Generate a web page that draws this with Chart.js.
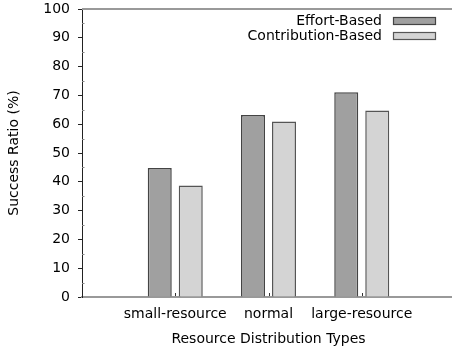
<!DOCTYPE html>
<html>
<head>
<meta charset="utf-8">
<script src="https://cdn.jsdelivr.net/npm/chart.js@4"></script>
<style>
  html, body { margin: 0; padding: 0; background: #fff; overflow: hidden; }
  #wrap { width: 455px; height: 352px; }
</style>
</head>
<body>
<div id="wrap"><canvas id="c" width="455" height="352"></canvas></div>
<script>
// Category slots: empty slots on each side leave room around the three groups
const categories = ['', 'small-resource', 'normal', 'large-resource', ''];
const effortBased = [null, 44.8, 63.2, 71.1, null];
const contributionBased = [null, 38.7, 60.9, 64.8, null];
const yTicks = [0, 10, 20, 30, 40, 50, 60, 70, 80, 90, 100];

const FONT = 'DejaVu Sans';
Chart.defaults.font.family = FONT;
Chart.defaults.color = '#000';

// Frame decorations, minor ticks and the in-plot legend
const frameAndLegend = {
  id: 'frameAndLegend',
  afterDatasetsDraw(chart) {
    const { ctx, chartArea: a, scales } = chart;
    const y = scales.y, x = scales.x;
    ctx.save();
    // top border
    ctx.strokeStyle = '#999';
    ctx.lineWidth = 2;
    ctx.beginPath();
    ctx.moveTo(a.left, a.top);
    ctx.lineTo(a.right, a.top);
    ctx.stroke();
    // minor y ticks, inside the plot
    ctx.strokeStyle = '#888';
    ctx.lineWidth = 1;
    for (let i = 0; i < yTicks.length - 1; i++) {
      const py = Math.round(y.getPixelForValue((yTicks[i] + yTicks[i + 1]) / 2)) + 0.5;
      ctx.beginPath();
      ctx.moveTo(a.left, py);
      ctx.lineTo(a.left + 2.5, py);
      ctx.stroke();
    }
    // small x ticks at group centres, pointing up
    ctx.strokeStyle = '#333';
    categories.forEach((c, i) => {
      if (!c) return;
      const px = Math.round(x.getPixelForValue(i)) + 0.5;
      ctx.beginPath();
      ctx.moveTo(px, a.bottom - 1);
      ctx.lineTo(px, a.bottom - 4);
      ctx.stroke();
    });
    // legend: label on the left, swatch on the right
    ctx.font = '14px ' + FONT;
    ctx.textAlign = 'right';
    ctx.textBaseline = 'middle';
    const rows = [21, 36];
    chart.data.datasets.forEach((ds, i) => {
      const cy = rows[i];
      ctx.fillStyle = '#000';
      ctx.fillText(ds.label, 382, cy);
      ctx.fillStyle = ds.backgroundColor;
      ctx.fillRect(393, cy - 3.5, 42, 7);
      ctx.strokeStyle = ds.borderColor;
      ctx.lineWidth = 1.2;
      ctx.strokeRect(393.5, cy - 3.5, 42, 7);
    });
    ctx.restore();
  }
};

new Chart(document.getElementById('c'), {
  type: 'bar',
  data: {
    labels: categories,
    datasets: [
      {
        label: 'Effort-Based',
        data: effortBased,
        backgroundColor: '#a0a0a0',
        borderColor: '#444',
        borderWidth: 1.5,
        borderSkipped: 'bottom'
      },
      {
        label: 'Contribution-Based',
        data: contributionBased,
        backgroundColor: '#d4d4d4',
        borderColor: '#555',
        borderWidth: 1.5,
        borderSkipped: 'bottom'
      }
    ]
  },
  options: {
    responsive: false,
    animation: false,
    layout: { padding: { top: 9, right: -9, left: 0, bottom: 0 } },
    categoryPercentage: 0.665,
    barPercentage: 0.774,
    plugins: {
      legend: { display: false },
      tooltip: { enabled: false }
    },
    scales: {
      x: {
        offset: false,
        grid: { display: false },
        border: { display: true, color: '#999', width: 2 },
        ticks: { font: { size: 14 }, padding: 1, maxRotation: 0, autoSkip: false },
        title: {
          display: true,
          text: 'Resource Distribution Types',
          font: { size: 14 },
          padding: { top: 0, bottom: 4 }
        },
        afterFit(s) { s.height = 55; s.paddingLeft = 0; s.paddingRight = 0; }
      },
      y: {
        min: 0,
        max: 100,
        afterBuildTicks(s) { s.ticks = yTicks.map(v => ({ value: v })); },
        grid: { drawOnChartArea: false, drawTicks: true, tickLength: 4, color: '#222' },
        border: { display: true, color: '#222', width: 1 },
        ticks: { font: { size: 14 }, padding: 8 },
        title: {
          display: true,
          text: 'Success Ratio (%)',
          font: { size: 14 },
          padding: { top: 6, bottom: 0 }
        },
        afterFit(s) { s.width = 82; s.paddingTop = 0; s.paddingBottom = 0; }
      }
    }
  },
  plugins: [frameAndLegend]
});
</script>
</body>
</html>
